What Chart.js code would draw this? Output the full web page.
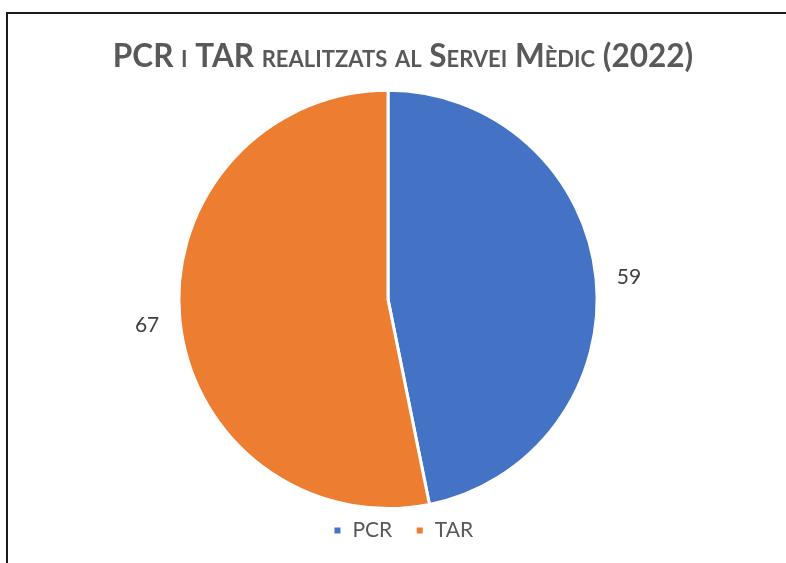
<!DOCTYPE html>
<html>
<head>
<meta charset="utf-8">
<script src="https://cdn.jsdelivr.net/npm/chart.js@4"></script>
<style>
    html, body { margin: 0; padding: 0; background: #fff; overflow: hidden; }
    #wrap { position: absolute; left: 0; top: 0; width: 806px; height: 563px; }
    #frame {
        position: absolute; left: 6px; top: 12px; width: 900px; height: 700px;
        border-left: 2px solid #1a1a1a; border-top: 2px solid #1a1a1a;
        pointer-events: none;
    }
</style>
</head>
<body>
<div id="wrap"><canvas id="chart" width="806" height="563"></canvas></div>
<div id="frame"></div>
<script>
const categories = ['PCR', 'TAR'];
const values = [59, 67];
const sliceColors = ['#4472C4', '#ED7D31'];
const chartTitle = 'PCR i TAR realitzats al Servei Mèdic (2022)';
const FONT = 'Lato, "Open Sans", sans-serif';

// the pie sits a bit left of the title/legend centre and runs close to the legend
const shiftPie = {
    id: 'shiftPie',
    afterLayout(chart) {
        const a = chart.chartArea;
        a.left -= 15;
        a.right -= 15;
        a.bottom += 13;
        a.height = a.bottom - a.top;
    }
};

// value labels outside each slice
const outerLabels = {
    id: 'outerLabels',
    afterDatasetsDraw(chart) {
        const ctx = chart.ctx;
        const meta = chart.getDatasetMeta(0);
        ctx.save();
        ctx.font = '21px ' + FONT;
        ctx.fillStyle = '#404040';
        ctx.textAlign = 'center';
        ctx.textBaseline = 'middle';
        meta.data.forEach((arc, i) => {
            const mid = (arc.startAngle + arc.endAngle) / 2;
            const r = arc.outerRadius + 33;
            ctx.fillText(String(values[i]), arc.x + Math.cos(mid) * r, arc.y + Math.sin(mid) * r + 2);
        });
        ctx.restore();
    }
};

new Chart(document.getElementById('chart'), {
    type: 'pie',
    data: {
        labels: categories,
        datasets: [{
            data: values,
            backgroundColor: sliceColors,
            borderColor: '#ffffff',
            borderWidth: 3
        }]
    },
    options: {
        responsive: false,
        animation: false,
        layout: { padding: { bottom: 12 } },
        plugins: {
            title: {
                display: true,
                text: chartTitle,
                color: '#595959',
                font: { family: FONT, size: 31.5, weight: 'small-caps bold' },
                padding: { top: 38, bottom: 13 }
            },
            legend: {
                position: 'bottom',
                labels: {
                    color: '#595959',
                    boxWidth: 9,
                    boxHeight: 9,
                    padding: 23,
                    font: { family: FONT, size: 21 }
                }
            },
            tooltip: { enabled: false }
        }
    },
    plugins: [shiftPie, outerLabels]
});
</script>
</body>
</html>
